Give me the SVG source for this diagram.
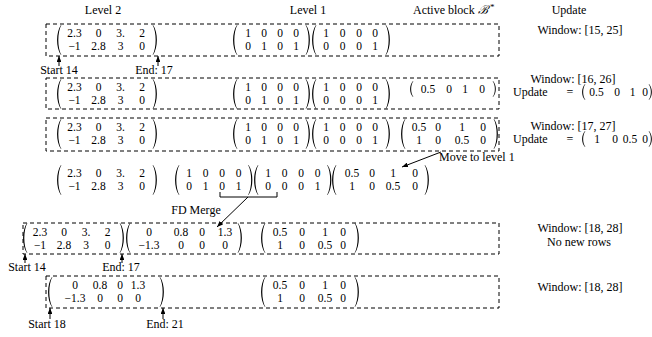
<svg xmlns="http://www.w3.org/2000/svg" xmlns:xlink="http://www.w3.org/1999/xlink" width="652" height="337" viewBox="0 0 652 337">
<style>
text{font-family:"Liberation Serif","DejaVu Serif",serif;font-size:11.5px;fill:#000}
.c{text-anchor:middle}
.l{font-size:12px}
.box{fill:none;stroke:#000;stroke-width:1;stroke-dasharray:4 3}
.ln{fill:none;stroke:#000;stroke-width:1}
.p{fill:#000}
</style>
<defs>
<path id="lp" d="M0,0 C-5.2,7 -5.2,23 0,30 L0.4,30 C-3.7,23 -3.7,7 0.4,0 Z"/>
<path id="rp" d="M0,0 C5.2,7 5.2,23 0,30 L-0.4,30 C3.7,23 3.7,7 -0.4,0 Z"/>
<path id="lp1" d="M0,0 C-3.8,4 -3.8,12 0,16 L0.4,16 C-2.6,12 -2.6,4 0.4,0 Z"/>
<path id="rp1" d="M0,0 C3.8,4 3.8,12 0,16 L-0.4,16 C2.6,12 2.6,4 -0.4,0 Z"/>
<marker id="ah" viewBox="0 0 10 8" refX="10" refY="4" markerWidth="6" markerHeight="4.8" orient="auto" markerUnits="userSpaceOnUse"><path d="M0,0 L10,4 L0,8 Z" fill="#000"/></marker>
</defs>

<g id="headers">
<text class="c l" x="103" y="14">Level 2</text>
<text class="c l" x="308" y="14">Level 1</text>
<text class="l" x="413" y="14">Active block <tspan style="font-style:italic">ℬ</tspan></text>
<text style="font-size:9px" x="490" y="10">*</text>
<text class="c l" x="569" y="14">Update</text>
</g>

<g id="row1">
<rect class="box" x="46" y="24" width="453" height="32"/>
<use href="#lp" x="61" y="25" class="p"/><use href="#rp" x="153" y="25" class="p"/>
<text class="c" x="74.5" y="37">2.3</text><text class="c" x="98.5" y="37">0</text><text class="c" x="120.5" y="37">3.</text><text class="c" x="142" y="37">2</text>
<text class="c" x="74.5" y="50">−1</text><text class="c" x="98.5" y="50">2.8</text><text class="c" x="120.5" y="50">3</text><text class="c" x="142" y="50">0</text>
<use href="#lp" x="237" y="25" class="p"/><use href="#rp" x="306" y="25" class="p"/>
<text class="c" x="248" y="37">1</text><text class="c" x="264" y="37">0</text><text class="c" x="280" y="37">0</text><text class="c" x="296" y="37">0</text>
<text class="c" x="248" y="50">0</text><text class="c" x="264" y="50">1</text><text class="c" x="280" y="50">0</text><text class="c" x="296" y="50">1</text>
<use href="#lp" x="316" y="25" class="p"/><use href="#rp" x="386" y="25" class="p"/>
<text class="c" x="326" y="37">1</text><text class="c" x="342.5" y="37">0</text><text class="c" x="359" y="37">0</text><text class="c" x="375" y="37">0</text>
<text class="c" x="326" y="50">0</text><text class="c" x="342.5" y="50">0</text><text class="c" x="359" y="50">0</text><text class="c" x="375" y="50">1</text>
<text class="c l" x="580" y="34">Window: [15, 25]</text>
<text class="c l" x="59" y="74">Start 14</text>
<text class="c l" x="154" y="74">End: 17</text>
</g>

<g id="row2">
<rect class="box" x="46" y="78" width="453" height="31"/>
<use href="#lp" x="61" y="79" class="p"/><use href="#rp" x="153" y="79" class="p"/>
<text class="c" x="74.5" y="91">2.3</text><text class="c" x="98.5" y="91">0</text><text class="c" x="120.5" y="91">3.</text><text class="c" x="142" y="91">2</text>
<text class="c" x="74.5" y="104">−1</text><text class="c" x="98.5" y="104">2.8</text><text class="c" x="120.5" y="104">3</text><text class="c" x="142" y="104">0</text>
<use href="#lp" x="237" y="79" class="p"/><use href="#rp" x="306" y="79" class="p"/>
<text class="c" x="248" y="91">1</text><text class="c" x="264" y="91">0</text><text class="c" x="280" y="91">0</text><text class="c" x="296" y="91">0</text>
<text class="c" x="248" y="104">0</text><text class="c" x="264" y="104">1</text><text class="c" x="280" y="104">0</text><text class="c" x="296" y="104">1</text>
<use href="#lp" x="316" y="79" class="p"/><use href="#rp" x="386" y="79" class="p"/>
<text class="c" x="326" y="91">1</text><text class="c" x="342.5" y="91">0</text><text class="c" x="359" y="91">0</text><text class="c" x="375" y="91">0</text>
<text class="c" x="326" y="104">0</text><text class="c" x="342.5" y="104">0</text><text class="c" x="359" y="104">0</text><text class="c" x="375" y="104">1</text>
<use href="#lp1" x="413" y="81" class="p"/><use href="#rp1" x="493" y="81" class="p"/>
<text class="c" x="428" y="93">0.5</text><text class="c" x="449" y="93">0</text><text class="c" x="465" y="93">1</text><text class="c" x="482" y="93">0</text>
<text class="c l" x="573" y="83">Window: [16, 26]</text>
<text class="l" x="513" y="96">Update</text><text class="c l" x="570" y="96">=</text>
<use href="#lp1" x="585" y="84" class="p"/><use href="#rp1" x="649" y="84" class="p"/>
<text class="c" x="596.5" y="96">0.5</text><text class="c" x="617" y="96">0</text><text class="c" x="632.5" y="96">1</text><text class="c" x="645" y="96">0</text>
</g>

<g id="row3">
<rect class="box" x="46" y="118" width="453" height="33"/>
<use href="#lp" x="61" y="119" class="p"/><use href="#rp" x="153" y="119" class="p"/>
<text class="c" x="74.5" y="131">2.3</text><text class="c" x="98.5" y="131">0</text><text class="c" x="120.5" y="131">3.</text><text class="c" x="142" y="131">2</text>
<text class="c" x="74.5" y="144">−1</text><text class="c" x="98.5" y="144">2.8</text><text class="c" x="120.5" y="144">3</text><text class="c" x="142" y="144">0</text>
<use href="#lp" x="237" y="119" class="p"/><use href="#rp" x="306" y="119" class="p"/>
<text class="c" x="248" y="131">1</text><text class="c" x="264" y="131">0</text><text class="c" x="280" y="131">0</text><text class="c" x="296" y="131">0</text>
<text class="c" x="248" y="144">0</text><text class="c" x="264" y="144">1</text><text class="c" x="280" y="144">0</text><text class="c" x="296" y="144">1</text>
<use href="#lp" x="316" y="119" class="p"/><use href="#rp" x="386" y="119" class="p"/>
<text class="c" x="326" y="131">1</text><text class="c" x="342.5" y="131">0</text><text class="c" x="359" y="131">0</text><text class="c" x="375" y="131">0</text>
<text class="c" x="326" y="144">0</text><text class="c" x="342.5" y="144">0</text><text class="c" x="359" y="144">0</text><text class="c" x="375" y="144">1</text>
<use href="#lp" x="405" y="119" class="p"/><use href="#rp" x="494" y="119" class="p"/>
<text class="c" x="419" y="131">0.5</text><text class="c" x="438" y="131">0</text><text class="c" x="462" y="131">1</text><text class="c" x="483" y="131">0</text>
<text class="c" x="419" y="144">1</text><text class="c" x="438" y="144">0</text><text class="c" x="462" y="144">0.5</text><text class="c" x="483" y="144">0</text>
<text class="c l" x="573" y="130">Window: [17, 27]</text>
<text class="l" x="513" y="143">Update</text><text class="c l" x="570" y="143">=</text>
<use href="#lp1" x="585" y="131" class="p"/><use href="#rp1" x="649" y="131" class="p"/>
<text class="c" x="597" y="143">1</text><text class="c" x="615" y="143">0</text><text class="c" x="630" y="143">0.5</text><text class="c" x="645" y="143">0</text>
</g>

<g id="row4">
<use href="#lp" x="61" y="165" class="p"/><use href="#rp" x="153" y="165" class="p"/>
<text class="c" x="74.5" y="177">2.3</text><text class="c" x="98.5" y="177">0</text><text class="c" x="120.5" y="177">3.</text><text class="c" x="142" y="177">2</text>
<text class="c" x="74.5" y="190">−1</text><text class="c" x="98.5" y="190">2.8</text><text class="c" x="120.5" y="190">3</text><text class="c" x="142" y="190">0</text>
<use href="#lp" x="179" y="165" class="p"/><use href="#rp" x="248.5" y="165" class="p"/>
<text class="c" x="189" y="177">1</text><text class="c" x="205.5" y="177">0</text><text class="c" x="222" y="177">0</text><text class="c" x="238.5" y="177">0</text>
<text class="c" x="189" y="190">0</text><text class="c" x="205.5" y="190">1</text><text class="c" x="222" y="190">0</text><text class="c" x="238.5" y="190">1</text>
<use href="#lp" x="258" y="165" class="p"/><use href="#rp" x="327.5" y="165" class="p"/>
<text class="c" x="268" y="177">1</text><text class="c" x="284.5" y="177">0</text><text class="c" x="301" y="177">0</text><text class="c" x="317.5" y="177">0</text>
<text class="c" x="268" y="190">0</text><text class="c" x="284.5" y="190">0</text><text class="c" x="301" y="190">0</text><text class="c" x="317.5" y="190">1</text>
<use href="#lp" x="336" y="165" class="p"/><use href="#rp" x="425" y="165" class="p"/>
<text class="c" x="352" y="177">0.5</text><text class="c" x="372" y="177">0</text><text class="c" x="393" y="177">1</text><text class="c" x="415" y="177">0</text>
<text class="c" x="352" y="190">1</text><text class="c" x="372" y="190">0</text><text class="c" x="393" y="190">0.5</text><text class="c" x="415" y="190">0</text>
<path class="ln" d="M220,192 V197 H277 V192"/>
<text class="c l" x="196" y="214">FD Merge</text>
<text class="l" x="439" y="161">Move to level 1</text>
</g>

<g id="row5">
<rect class="box" x="23" y="223" width="476" height="31"/>
<use href="#lp" x="27" y="223" class="p"/><use href="#rp" x="120" y="223" class="p"/>
<text class="c" x="40" y="236">2.3</text><text class="c" x="64" y="236">0</text><text class="c" x="86" y="236">3.</text><text class="c" x="107.5" y="236">2</text>
<text class="c" x="40" y="249">−1</text><text class="c" x="64" y="249">2.8</text><text class="c" x="86" y="249">3</text><text class="c" x="107.5" y="249">0</text>
<use href="#lp" x="130" y="223" class="p"/><use href="#rp" x="238" y="223" class="p"/>
<text class="c" x="149" y="236">0</text><text class="c" x="181" y="236">0.8</text><text class="c" x="202" y="236">0</text><text class="c" x="225" y="236">1.3</text>
<text class="c" x="149" y="249">−1.3</text><text class="c" x="181" y="249">0</text><text class="c" x="202" y="249">0</text><text class="c" x="225" y="249">0</text>
<use href="#lp" x="265" y="223" class="p"/><use href="#rp" x="355" y="223" class="p"/>
<text class="c" x="280" y="236">0.5</text><text class="c" x="302" y="236">0</text><text class="c" x="325" y="236">1</text><text class="c" x="343" y="236">0</text>
<text class="c" x="280" y="249">1</text><text class="c" x="302" y="249">0</text><text class="c" x="325" y="249">0.5</text><text class="c" x="343" y="249">0</text>
<text class="c l" x="580" y="232">Window: [18, 28]</text>
<text class="c l" x="579" y="246">No new rows</text>
<text class="c l" x="27" y="271">Start 14</text>
<text class="c l" x="121" y="271">End: 17</text>
</g>

<g id="row6">
<rect class="box" x="46" y="276" width="453" height="32"/>
<use href="#lp" x="52" y="277" class="p"/><use href="#rp" x="160" y="277" class="p"/>
<text class="c" x="75" y="289">0</text><text class="c" x="100" y="289">0.8</text><text class="c" x="120" y="289">0</text><text class="c" x="138" y="289">1.3</text>
<text class="c" x="75" y="302">−1.3</text><text class="c" x="100" y="302">0</text><text class="c" x="120" y="302">0</text><text class="c" x="138" y="302">0</text>
<use href="#lp" x="265" y="277" class="p"/><use href="#rp" x="355" y="277" class="p"/>
<text class="c" x="280" y="289">0.5</text><text class="c" x="302" y="289">0</text><text class="c" x="325" y="289">1</text><text class="c" x="343" y="289">0</text>
<text class="c" x="280" y="302">1</text><text class="c" x="302" y="302">0</text><text class="c" x="325" y="302">0.5</text><text class="c" x="343" y="302">0</text>
<text class="c l" x="580" y="291">Window: [18, 28]</text>
<text class="c l" x="47" y="328">Start 18</text>
<text class="c l" x="165" y="328">End: 21</text>
</g>

<g id="connectors">
<line class="ln" x1="59" y1="66" x2="59" y2="56" marker-end="url(#ah)"/>
<line class="ln" x1="158" y1="66" x2="158" y2="56" marker-end="url(#ah)"/>
<line class="ln" x1="441" y1="152" x2="402" y2="167" marker-end="url(#ah)"/>
<line class="ln" x1="248" y1="197" x2="217" y2="227" marker-end="url(#ah)"/>
<line class="ln" x1="25" y1="263" x2="25" y2="254" marker-end="url(#ah)"/>
<line class="ln" x1="122" y1="263" x2="122" y2="254" marker-end="url(#ah)"/>
<line class="ln" x1="50" y1="319" x2="50" y2="308" marker-end="url(#ah)"/>
<line class="ln" x1="163" y1="319" x2="163" y2="308" marker-end="url(#ah)"/>
</g>
</svg>
